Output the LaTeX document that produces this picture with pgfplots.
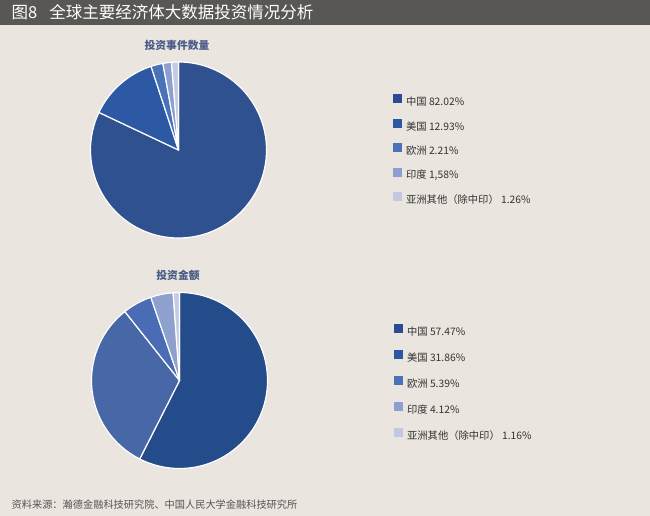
\documentclass[border=0pt]{standalone}
\usepackage{pgfplots}
\pgfplotsset{compat=1.18}
\usepackage{pgfplotstable}
\usepackage{fontspec}
\setmainfont{Noto Sans CJK SC}

\definecolor{bg}{HTML}{EAE6DF}
\definecolor{bar}{HTML}{595756}
\definecolor{titleblue}{HTML}{4A5A86}
\definecolor{txt}{HTML}{333333}
\definecolor{foot}{HTML}{555555}
% top pie
\definecolor{pieA0}{HTML}{30518F}
\definecolor{pieA1}{HTML}{2D58A3}
\definecolor{pieA2}{HTML}{4A72B9}
\definecolor{pieA3}{HTML}{8C9FD0}
\definecolor{pieA4}{HTML}{C3CBE3}
% bottom pie
\definecolor{pieB0}{HTML}{244B8A}
\definecolor{pieB1}{HTML}{4767A7}
\definecolor{pieB2}{HTML}{4A6CB4}
\definecolor{pieB3}{HTML}{8EA0CE}
\definecolor{pieB4}{HTML}{C5CDE4}
% legend squares
\definecolor{lg0}{HTML}{2A4C91}
\definecolor{lg1}{HTML}{2C57A2}
\definecolor{lg2}{HTML}{4A72B9}
\definecolor{lg3}{HTML}{8C9FD0}
\definecolor{lg4}{HTML}{C0C8E2}

\pgfplotstableread{
share
82.02
12.93
2.21
1.58
1.26
}\tabA
\pgfplotstableread{
share
57.47
31.86
5.39
4.12
1.16
}\tabB

\newcommand{\drawpie}[3]{%
  \def\cum{0}%
  \pgfplotsforeachungrouped \i in {0,...,4}{%
    \pgfplotstablegetelem{\i}{share}\of#1%
    \pgfmathsetmacro\sa{90-3.6*\cum}%
    \pgfmathsetmacro\newcum{\cum+\pgfplotsretval}%
    \pgfmathsetmacro\ea{90-3.6*\newcum}%
    \edef\temp{\noexpand\filldraw[fill=#2\i,draw=white,line width=1.2pt,line join=round] (axis cs:0,0) -- (axis cs:{cos(\sa)},{sin(\sa)}) arc[start angle=\sa,end angle=\ea,radius=#3] -- cycle;}%
    \temp
    \global\let\cum\newcum
  }%
}

\pgfplotsset{
  piestyle/.style={
    anchor=origin, width=176pt, height=176pt, scale only axis,
    xmin=-1, xmax=1, ymin=-1, ymax=1, hide axis, clip=false,
    legend cell align=left,
    legend image code/.code={\fill[##1] (0pt,-0.5pt) rectangle (8pt,7.5pt);},
    legend style={draw=none, fill=none, inner sep=0pt, anchor=north west,
      font=\fontsize{10.3}{11}\selectfont, text=txt,
      /tikz/every odd column/.style={column sep=3pt}},
  }
}

\begin{document}
\begin{tikzpicture}[x=1pt,y=1pt]
\fill[bg] (0,0) rectangle (650,516);
\useasboundingbox (0,0) rectangle (650,516);
\fill[bar] (0,491) rectangle (650,516);
\node[anchor=west, text=white, font=\fontsize{16.5}{18}\selectfont, inner sep=0pt] at (11.5,503.5) {图8\hspace{12pt}全球主要经济体大数据投资情况分析};

\node[text=titleblue, font=\bfseries\fontsize{10.8}{12}\selectfont] at (177,471) {投资事件数量};
\node[text=titleblue, font=\bfseries\fontsize{10.8}{12}\selectfont] at (178,240.5) {投资金额};

\begin{axis}[piestyle, at={(178.5pt,366pt)},
  legend style={at={(axis description cs:1.716,0.818)}, row sep=9.7pt}]
  \addplot[draw=none, forget plot] coordinates {(0,0)};
  \drawpie{\tabA}{pieA}{88pt}
  \addlegendimage{lg0}\addlegendentry{中国 82.02\%}
  \addlegendimage{lg1}\addlegendentry{美国 12.93\%}
  \addlegendimage{lg2}\addlegendentry{欧洲 2.21\%}
  \addlegendimage{lg3}\addlegendentry{印度 1,58\%}
  \addlegendimage{lg4}\addlegendentry{亚洲其他（除中印） 1.26\%}
\end{axis}

\begin{axis}[piestyle, at={(179.5pt,135.5pt)},
  legend style={at={(axis description cs:1.716,0.823)}, row sep=11.3pt}]
  \addplot[draw=none, forget plot] coordinates {(0,0)};
  \drawpie{\tabB}{pieB}{88pt}
  \addlegendimage{lg0}\addlegendentry{中国 57.47\%}
  \addlegendimage{lg1}\addlegendentry{美国 31.86\%}
  \addlegendimage{lg2}\addlegendentry{欧洲 5.39\%}
  \addlegendimage{lg3}\addlegendentry{印度 4.12\%}
  \addlegendimage{lg4}\addlegendentry{亚洲其他（除中印） 1.16\%}
\end{axis}

\node[anchor=west, text=foot, font=\fontsize{10.2}{12}\selectfont, inner sep=0pt] at (11.5,11) {资料来源：瀚德金融科技研究院、中国人民大学金融科技研究所};
\end{tikzpicture}
\end{document}
